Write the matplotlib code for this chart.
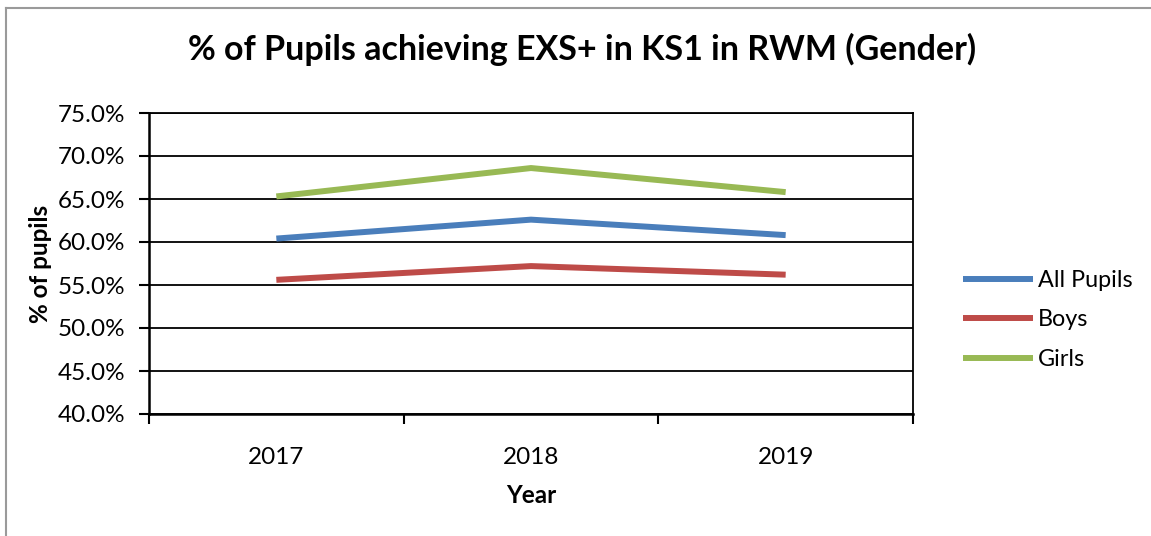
import matplotlib
matplotlib.use("Agg")
import matplotlib.pyplot as plt
from matplotlib.lines import Line2D

years = ["2017", "2018", "2019"]
all_pupils = [60.4, 62.6, 60.8]
boys = [55.6, 57.2, 56.2]
girls = [65.3, 68.6, 65.8]
series_names = ["All Pupils", "Boys", "Girls"]
yticks = [40, 45, 50, 55, 60, 65, 70, 75]

W, H = 1151, 536
fig = plt.figure(figsize=(W / 100, H / 100), dpi=100)
plt.rcParams['font.family'] = ['Lato', 'DejaVu Sans']

# outer chart border (top and left visible)
fig.add_artist(Line2D([6 / W, 1.0], [1 - 8 / H, 1 - 8 / H], color="#9a9a9a", lw=1.5, transform=fig.transFigure))
fig.add_artist(Line2D([6 / W, 6 / W], [0, 1 - 8 / H], color="#9a9a9a", lw=1.5, transform=fig.transFigure))

ax = fig.add_axes([149 / W, (H - 414) / H, (913 - 149) / W, (414 - 113) / H])
x = list(range(len(years)))
colors = ["#4A7EBB", "#BE4B48", "#98B954"]
for vals, name, c in zip([all_pupils, boys, girls], series_names, colors):
    ax.plot(x, vals, color=c, lw=4.3, label=name, solid_capstyle="butt")

fs = 17.5
ax.set_xlim(-0.5, 2.5)
ax.set_ylim(40, 75)
ax.set_yticks(yticks)
ax.set_yticklabels([f"{v:.1f}%" for v in yticks], fontsize=fs)
ax.yaxis.grid(True, color="black", lw=1.3)
ax.set_axisbelow(True)
ax.set_xticks([-0.5, 0.5, 1.5, 2.5])
ax.set_xticklabels([])
ax.set_xticks(x, minor=True)
ax.set_xticklabels(years, minor=True, fontsize=fs)
ax.tick_params(axis="x", which="minor", length=0, pad=24)
ax.tick_params(axis="x", which="major", length=7, width=1.5, direction="out")
ax.tick_params(axis="y", length=7, width=1.5, direction="out", pad=10)
for s in ["left", "bottom"]:
    ax.spines[s].set_linewidth(1.8)
for s in ["top", "right"]:
    ax.spines[s].set_linewidth(1.3)

ax.set_xlabel("Year", fontsize=fs, fontweight="bold", labelpad=11)
ax.set_ylabel("% of pupils", fontsize=fs, fontweight="bold", labelpad=4)

fig.text(582 / W, 1 - 49 / H, "% of Pupils achieving EXS+ in KS1 in RWM (Gender)",
         ha="center", va="center", fontsize=24.5, fontweight="bold")

ax.legend(loc="center left", bbox_to_anchor=(942 / W, 1 - 320 / H), bbox_transform=fig.transFigure,
          frameon=False, fontsize=16.8, handlelength=3.0, handletextpad=0.2, labelspacing=0.8)

fig.savefig("out.png", dpi=100)
